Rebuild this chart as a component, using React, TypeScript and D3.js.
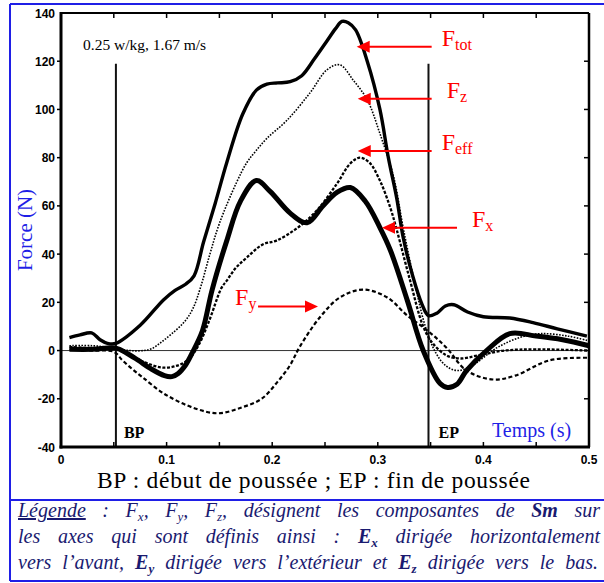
import React, { useLayoutEffect, useRef, useState } from 'react'
import * as d3 from 'd3'

// force components (N) against time (s)
const tTot = [0.008, 0.018, 0.029, 0.037, 0.044, 0.052, 0.075, 0.097, 0.108, 0.118, 0.126, 0.135, 0.146, 0.157, 0.172, 0.185, 0.195, 0.205, 0.217, 0.228, 0.24, 0.252, 0.26, 0.266, 0.272, 0.279, 0.29, 0.302, 0.31, 0.318, 0.324, 0.333, 0.342, 0.348, 0.356, 0.364, 0.372, 0.385, 0.4, 0.425, 0.447, 0.47, 0.498]
const fTot = [5.4, 6.5, 7.3, 4.5, 3, 3, 10.5, 21, 25, 27.5, 31, 45, 61, 78, 98, 108, 110.5, 111, 111.5, 114, 121, 128.5, 133.5, 136.5, 136, 133, 120, 100, 80, 63, 47, 31, 19, 14.5, 15.5, 18.5, 19, 16, 14, 13.5, 11.6, 9, 6]

const tZ = [0.008, 0.03, 0.05, 0.065, 0.078, 0.086, 0.095, 0.105, 0.117, 0.125, 0.132, 0.141, 0.15, 0.166, 0.176, 0.184, 0.195, 0.214, 0.236, 0.252, 0.264, 0.277, 0.29, 0.302, 0.315, 0.324, 0.335, 0.345, 0.355, 0.365, 0.376, 0.39, 0.413, 0.435, 0.454, 0.48, 0.5]
const fZ = [2, 2, 1, 0, 0, 0.8, 3.5, 7, 12, 17.5, 26, 40, 52.7, 69.5, 78, 82.5, 88, 95.5, 107, 116.5, 118.5, 112, 104, 90, 72, 51, 28, 10, -1, -6.5, -8.3, -6, 1.2, 5.5, 7, 6, 4]

const tEff = [0.008, 0.03, 0.052, 0.065, 0.08, 0.095, 0.108, 0.12, 0.13, 0.14, 0.152, 0.157, 0.165, 0.176, 0.191, 0.204, 0.223, 0.242, 0.261, 0.274, 0.283, 0.292, 0.302, 0.312, 0.318, 0.33, 0.343, 0.352, 0.365, 0.378, 0.395, 0.42, 0.45, 0.5]
const fEff = [1.5, 1, 0.5, -2, -5, -7, -6.5, -4, 2, 12, 26, 29, 34, 38.6, 44, 45.6, 50.6, 58, 69, 77.6, 80, 78, 70.5, 59, 50, 30, 10, 3, -2, -3.3, -2, 0, 0.5, 0]

const tX = [0.008, 0.03, 0.052, 0.062, 0.073, 0.085, 0.098, 0.105, 0.111, 0.118, 0.124, 0.134, 0.143, 0.157, 0.17, 0.185, 0.198, 0.217, 0.233, 0.248, 0.261, 0.274, 0.288, 0.302, 0.312, 0.328, 0.343, 0.359, 0.366, 0.375, 0.384, 0.403, 0.425, 0.45, 0.475, 0.5]
const fX = [0.5, 0.5, 1, -1, -4, -7.5, -10.4, -10.8, -9.5, -6, -1.2, 8.3, 25, 45.6, 62, 70.5, 66, 57, 53, 60, 65.5, 67.6, 62, 51, 41.5, 20.7, 0, -13.7, -15.3, -14, -8.3, 0, 7, 6, 4.5, 2]

const tY = [0.008, 0.03, 0.05, 0.058, 0.067, 0.077, 0.098, 0.127, 0.149, 0.171, 0.19, 0.205, 0.217, 0.226, 0.245, 0.264, 0.286, 0.309, 0.328, 0.347, 0.365, 0.384, 0.409, 0.43, 0.463, 0.5]
const fY = [0.5, 0, -0.5, -4, -7.5, -11, -18, -24, -26, -23.6, -20, -13, -6, 1.5, 13.7, 22, 25.3, 22, 14.5, 8.3, 1.2, -8.3, -12, -10.4, -4, -3]

const xTicks = [0, 0.1, 0.2, 0.3, 0.4, 0.5]
const yTicks = [-40, -20, 0, 20, 40, 60, 80, 100, 120, 140]

// start / end of push-off
const bpT = 0.052
const epT = 0.348
const markerTop = 119

// red arrows: subscript, force level, tail time, tip time
const arrowSub = ['tot', 'z', 'eff', 'x', 'y']
const arrowF = [126, 104.4, 82.8, 50.9, 18.3]
const arrowFrom = [0.351, 0.351, 0.351, 0.375, 0.1866]
const arrowTo = [0.28, 0.281, 0.281, 0.304, 0.2434]

// legend lines: [text, kind] with kind n = normal, s = subscript, b = bold, bs = bold subscript, u = underlined
const legend1 = [['Légende', 'u'], [' : F', 'n'], ['x', 's'], [', F', 'n'], ['y', 's'], [', F', 'n'], ['z', 's'], [', désignent les composantes de ', 'n'], ['Sm', 'b'], [' sur', 'n']]
const legend2 = [['les axes qui sont définis ainsi : ', 'n'], ['E', 'b'], ['x', 'bs'], [' dirigée horizontalement', 'n']]
const legend3 = [['vers l’avant, ', 'n'], ['E', 'b'], ['y', 'bs'], [' dirigée vers l’extérieur et ', 'n'], ['E', 'b'], ['z', 'bs'], [' dirigée vers le bas.', 'n']]

const BLUE = '#1f1fe6'
const NAVY = '#1a1a70'
const RED = '#ff0000'
const SERIF = 'Liberation Serif, Times New Roman, serif'

function Runs({ runs, sub = 13, d = 4 }) {
    let low = false
    return <>
        {runs.map(([txt, kind], i) => {
            const isSub = kind === 's' || kind === 'bs'
            const dy = isSub ? (low ? 0 : d) : (low ? -d : 0)
            low = isSub
            return <tspan key={i} dy={dy || undefined}
                fontSize={isSub ? sub : undefined}
                fontWeight={kind === 'b' || kind === 'bs' ? 'bold' : undefined}
                textDecoration={kind === 'u' ? 'underline' : undefined}>{txt}</tspan>
        })}
    </>
}

function Justified({ runs, x, y, width, last = false }) {
    const ref = useRef(null)
    const [ws, setWs] = useState(0)
    useLayoutEffect(() => {
        const el = ref.current
        if (!el) return
        const natural = el.getComputedTextLength()
        const spaces = runs.map(r => r[0]).join('').split(' ').length - 1
        if (!last && spaces > 0) setWs(Math.max(0, (width - natural) / spaces))
    }, [])
    return <text ref={ref} x={x} y={y} wordSpacing={ws}><Runs runs={runs} /></text>
}

export default function App() {
    const x = d3.scaleLinear().domain([0, 0.5]).range([61, 589])
    const y = d3.scaleLinear().domain([-40, 140]).range([447, 13])

    const line = d3.line<[number, number]>()
        .x(d => x(d[0]))
        .y(d => y(d[1]))
        .curve(d3.curveCatmullRom.alpha(0.5))

    const series = [
        { t: tTot, f: fTot, w: 3.4, dash: undefined },
        { t: tZ, f: fZ, w: 1.6, dash: '1.6,1.4' },
        { t: tEff, f: fEff, w: 2.3, dash: '3,1.6' },
        { t: tX, f: fX, w: 5, dash: undefined },
        { t: tY, f: fY, w: 2.2, dash: '4,2.5' },
    ]

    const [x0, x1] = x.range()
    const [y0, y1] = y.range()
    const minor = d3.range(0.05, 0.5, 0.05)
    const tickSans = { fontFamily: 'Liberation Sans, Arial, sans-serif', fontWeight: 'bold', fontSize: 12 }

    return (
        <svg width={604} height={583} style={{ position: 'absolute', left: 0, top: 0, background: '#fff' }}>
            {/* blue frame */}
            <g stroke={BLUE} strokeWidth={2} fill="none">
                <line x1={10} y1={4} x2={604} y2={4} />
                <line x1={10} y1={4} x2={10} y2={581} />
                <line x1={10} y1={500} x2={604} y2={500} />
                <line x1={10} y1={581} x2={604} y2={581} />
            </g>

            {/* zero line */}
            <line x1={x0} x2={x1} y1={y(0)} y2={y(0)} stroke="#333" strokeWidth={1} />

            {/* BP / EP */}
            {[bpT, epT].map(t =>
                <line key={t} x1={x(t)} x2={x(t)} y1={y(markerTop)} y2={y0} stroke="#111" strokeWidth={2} />)}

            {series.map((s, i) =>
                <path key={i} d={line(s.t.map((t, j) => [t, s.f[j]]))} fill="none" stroke="#000"
                    strokeWidth={s.w} strokeDasharray={s.dash} strokeLinejoin="round" />)}

            {/* frame and ticks */}
            <g stroke="#000" fill="none">
                <line x1={x0} x2={x1} y1={y1} y2={y1} strokeWidth={2} />
                <line x1={x1} x2={x1} y1={y1} y2={y0} strokeWidth={2.5} />
                <line x1={x0} x2={x0} y1={y1 - 1} y2={y0 + 1.5} strokeWidth={3} />
                <line x1={x0 - 1.5} x2={x1 + 1} y1={y0} y2={y0} strokeWidth={3} />
                {minor.map(t => <line key={'t' + t} x1={x(t)} x2={x(t)} y1={y1} y2={y1 + 5} strokeWidth={1.5} />)}
                {minor.map(t => <line key={'b' + t} x1={x(t)} x2={x(t)} y1={y0} y2={y0 - 5} strokeWidth={1.5} />)}
                {yTicks.slice(1, -1).map(v => <line key={'r' + v} x1={x1} x2={x1 - 5} y1={y(v)} y2={y(v)} strokeWidth={1.5} />)}
                {yTicks.slice(1, -1).map(v => <line key={'l' + v} x1={x0} x2={x0 - 4} y1={y(v)} y2={y(v)} strokeWidth={1.5} />)}
            </g>

            {yTicks.map(v =>
                <text key={v} x={x0 - 6} y={y(v) + 4.5} textAnchor="end" {...tickSans}>{v}</text>)}
            {xTicks.map(v =>
                <text key={v} x={x(v)} y={y0 + 17} textAnchor="middle" {...tickSans}>{v}</text>)}

            <text x={83} y={50} fontFamily={SERIF} fontSize={15.5}>0.25 w/kg, 1.67 m/s</text>
            <text x={x(bpT) + 8} y={y0 - 9} fontFamily={SERIF} fontSize={16} fontWeight="bold">BP</text>
            <text x={x(epT) + 10} y={y0 - 9} fontFamily={SERIF} fontSize={16} fontWeight="bold">EP</text>
            <text x={492} y={y0 - 10} fontFamily={SERIF} fontSize={20} fill={BLUE}>Temps (s)</text>
            <text transform={`translate(32,${(y0 + y1) / 2}) rotate(-90)`} textAnchor="middle"
                fontFamily={SERIF} fontSize={21} fill={BLUE}>Force (N)</text>

            {/* red annotations */}
            {arrowSub.map((s, i) => {
                const ay = y(arrowF[i])
                const xa = x(arrowFrom[i])
                const xb = x(arrowTo[i])
                const dir = Math.sign(xb - xa)
                const head = `M${xb},${ay} L${xb - dir * 13},${ay - 6} L${xb - dir * 13},${ay + 6} Z`
                const off = [10, 15, 10, 15, -23][i]
                return <g key={s}>
                    <line x1={xa} x2={xb - dir * 10} y1={ay} y2={ay} stroke={RED} strokeWidth={2} />
                    <path d={head} fill={RED} />
                    <text x={xa + off} y={ay - 1} fontFamily={SERIF} fontSize={24} fill={RED}>
                        <Runs runs={[['F', 'n'], [s, 's']]} sub={16} d={4} />
                    </text>
                </g>
            })}

            <text x={97} y={488} fontFamily={SERIF} fontSize={23.5} textLength={433} lengthAdjust="spacing">BP : début de poussée ; EP : fin de poussée</text>

            {/* legend */}
            <g fontFamily={SERIF} fontStyle="italic" fontSize={20} fill={NAVY}>
                <Justified runs={legend1} x={18} y={517} width={582} />
                <Justified runs={legend2} x={18} y={543} width={582} />
                <Justified runs={legend3} x={18} y={569} width={580} />
            </g>
        </svg>
    )
}
